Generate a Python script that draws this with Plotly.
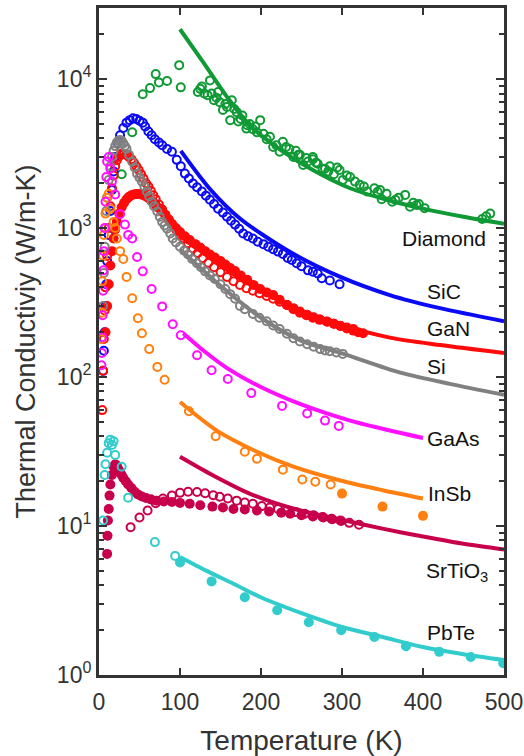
import math
import plotly.graph_objects as go

# ---------------- data (T in K, k in W/m-K) ----------------
diamond_T = [28, 41, 54, 63, 70, 74, 84, 99, 101, 122, 125, 130, 137, 139, 145, 149, 153, 158, 162, 164,
             170, 172, 177, 182, 183, 190, 195, 199, 207, 215, 223, 227, 235, 240, 246, 248, 252, 258, 264,
             264, 270, 276, 279, 285, 290, 297, 301, 310, 316, 322, 331, 340, 347, 349, 355, 362, 370, 378,
             384, 392, 395, 402, 473, 478, 483,
             127, 134, 142, 147, 156, 167, 175, 186, 193, 203, 211, 219, 231, 243, 256, 268, 283, 294, 306,
             327, 344, 366, 388]
diamond_k = [2300, 4400, 7900, 8700, 10800, 9500, 9700, 12400, 8800, 8200, 8600, 8000, 9800, 8000, 7500,
             7000, 6200, 6500, 5300, 7200, 6000, 5200, 5700, 4650, 4900, 4600, 4400, 5300, 3950, 3500,
             3250, 3800, 3400, 3000, 3100, 3100, 2650, 2800, 2900, 3000, 2700, 2500, 2500, 2600, 2300,
             2450, 2100, 2200, 2050, 1950, 1760, 1850, 1800, 1560, 1700, 1500, 1600, 1670, 1390, 1430,
             1450, 1360, 1150, 1200, 1250,
             8900, 7800, 7200, 8200, 6800, 6300, 5400, 5000, 4800, 4300, 4100, 3600, 3500, 3300, 2950,
             2750, 2400, 2550, 2250, 1900, 1750, 1550, 1480]
diamond_line_T = [100, 129, 158, 186, 224, 264, 310, 355, 400, 450, 500]
diamond_line_k = [21600, 12900, 7600, 4900, 3350, 2450, 1850, 1550, 1350, 1190, 1070]

sic_T = [5, 6, 7, 8, 9, 10, 12, 14, 16, 18, 20, 23, 26, 30, 34, 38, 42, 46, 50, 54, 57, 61, 65, 69, 74,
         78, 84, 90, 96, 101, 106, 111, 116, 121, 127, 132, 137, 142, 147, 153, 158, 163, 168, 173, 178,
         184, 190, 196, 203, 209, 215, 221, 227, 233, 238, 244, 250, 258, 264, 270, 275, 285, 297]
sic_k = [110, 150, 200, 300, 420, 600, 900, 1300, 1800, 2400, 3000, 3700, 4200, 4700, 5100, 5300, 5450,
         5400, 5250, 5100, 4800, 4450, 4200, 3950, 3750, 3600, 3400, 3250, 2870, 2600, 2320, 2150, 1990,
         1880, 1760, 1650, 1550, 1450, 1350, 1270, 1190, 1120, 1055, 990, 920, 880, 850, 810, 780, 750,
         720, 695, 670, 630, 610, 580, 555, 520, 510, 495, 460, 445, 420]
sic_line_T = [101, 137, 174, 236, 298, 359, 421, 500]
sic_line_k = [3300, 1830, 1160, 690, 470, 355, 290, 237]

gan_open_T = [4, 5, 6, 7, 8, 10, 12, 14, 16, 18, 20, 22, 24, 26, 28, 31, 34, 37, 40, 43, 46, 49, 52, 55,
              58, 61, 64, 67, 70, 74, 78, 82, 86, 90, 95, 100, 105, 110, 116, 122, 128, 135, 142, 150, 158,
              166, 174, 182, 190, 198, 207, 215, 223, 232, 240, 248, 257, 265, 273, 282, 290, 298, 306, 314]
gan_open_k = [60, 110, 180, 280, 400, 650, 1000, 1400, 1850, 2250, 2600, 2850, 3000, 3100, 3150, 3150,
              3100, 3000, 2900, 2750, 2600, 2450, 2300, 2150, 2000, 1900, 1780, 1660, 1560, 1440, 1330,
              1230, 1140, 1060, 980, 910, 850, 790, 730, 680, 630, 585, 545, 505, 470, 440, 415, 395, 380,
              365, 350, 335, 320, 305, 290, 275, 262, 252, 243, 235, 228, 221, 215, 210]
gan_fill_T = [8, 10, 12, 14, 16, 18, 20, 22, 25, 28, 31, 34, 37, 40, 43, 46, 49, 52, 55, 58, 61, 64, 67,
              70, 74, 78, 82, 86, 90, 95, 100, 106, 112, 119, 125, 131, 137, 143, 150, 156, 162, 168, 175,
              183, 191, 199, 207, 215, 223, 232, 240, 248, 256, 264, 272, 281, 290, 298, 306, 314, 320, 326]
gan_fill_k = [200, 300, 420, 560, 700, 850, 980, 1100, 1250, 1380, 1480, 1560, 1620, 1660, 1680, 1690,
              1690, 1680, 1660, 1630, 1590, 1540, 1490, 1430, 1360, 1290, 1210, 1140, 1070, 1000, 940,
              880, 830, 780, 740, 700, 665, 635, 600, 570, 540, 515, 480, 450, 415, 390, 370, 355, 330,
              305, 285, 270, 260, 250, 243, 236, 228, 220, 212, 205, 200, 197]
gan_line_T = [100, 150, 200, 250, 300, 359, 421, 500]
gan_line_k = [900, 560, 380, 275, 222, 184, 164, 145]

si_T = [5, 6, 7, 8, 9, 10, 12, 14, 16, 18, 20, 22, 24, 26, 28, 30, 32, 34, 37, 41, 44, 47, 50, 53, 56,
        59, 62, 65, 68, 72, 75, 78, 81, 84, 88, 91, 95, 100, 105, 110, 115, 121, 126, 131, 137, 143, 150,
        156, 162, 168, 174, 180, 190, 198, 207, 215, 223, 232, 240, 248, 257, 265, 273, 279, 285, 293, 301]
si_k = [300, 500, 750, 1000, 1300, 1600, 2100, 2600, 3000, 3300, 3550, 3750, 3850, 3900, 3850, 3700, 3550,
        3400, 3100, 2790, 2550, 2315, 2180, 2050, 1900, 1760, 1630, 1500, 1400, 1290, 1190, 1100, 1040,
        990, 920, 850, 800, 750, 705, 665, 620, 580, 545, 512, 480, 455, 420, 390, 360, 335, 300, 285,
        265, 250, 237, 222, 210, 195, 182, 173, 166, 160, 154, 151, 149, 146, 143]
si_line_T = [100, 150, 200, 250, 302, 372, 433, 500]
si_line_k = [720, 410, 250, 175, 143, 107, 90, 76]

gaas_T = [3, 3.5, 4, 4.5, 5, 5.5, 6, 7, 8, 9, 10, 12, 14, 16, 20, 26, 32, 36, 41, 47, 54, 65, 78, 91, 101,
          121, 139, 159, 188, 226, 257, 279, 296]
gaas_k = [120, 145, 185, 260, 380, 520, 700, 1000, 1500, 2200, 2800, 3000, 2500, 2050, 1680, 1240, 1055,
          900, 850, 640, 512, 390, 298, 226, 191, 140, 111, 97, 78, 64, 57, 51, 47]
gaas_line_T = [104, 130, 159, 201, 248, 310, 350, 400]
gaas_line_k = [197, 149, 114, 85, 66, 51, 45, 39]

insb_open_T = [3, 3.5, 4, 5, 6, 8, 10, 12, 14, 18, 20, 22, 26, 30, 34, 41, 48, 53, 62, 72, 81, 111, 144,
               180, 195, 227, 251, 267, 286]
insb_open_k = [180, 270, 440, 650, 900, 1250, 1600, 1700, 1350, 1100, 1000, 850, 700, 620, 470, 338, 248,
               197, 154, 117, 96, 59, 40, 31.5, 28.3, 23.9, 20.5, 19.8, 19.0]
insb_fill_T = [300, 350, 400]
insb_fill_k = [16.5, 13.5, 11.7]
insb_line_T = [100, 146, 195, 240, 298, 350, 400]
insb_line_k = [68, 43.5, 31.5, 25, 20.2, 17.4, 15.3]

sto_fill_T = [10, 10.5, 11, 12, 13, 14, 16, 18, 20, 22, 24, 26, 28, 30, 33, 36, 40, 44, 48, 53, 58, 64, 71,
              80, 90, 100, 112, 125, 140, 153, 166, 180, 195, 210, 225, 236, 250, 264, 277, 288, 298]
sto_fill_k = [6.5, 8.6, 10.9, 13, 16, 19, 22, 25, 26, 25.5, 24, 23, 22, 21, 20, 19, 18, 17, 16.3, 15.8,
              15.4, 15.1, 14.8, 14.6, 14.5, 14.3, 14.1, 13.8, 13.5, 13.3, 13.0, 12.9, 12.7, 12.5, 12.3,
              12.1, 11.8, 11.6, 11.4, 11.1, 10.9]
sto_open_T = [39, 50, 60, 70, 79, 90, 100, 110, 121, 131, 141, 149, 159, 170, 180, 190, 201, 211, 221, 232,
              243, 254, 265, 276, 287, 299, 309, 321]
sto_open_k = [9.8, 11.4, 12.7, 14.2, 15.3, 16, 16.7, 17, 16.9, 16.6, 16.1, 15.7, 15.3, 14.8, 14.4, 14.1,
              13.6, 13.3, 13.0, 12.7, 12.4, 12.1, 11.8, 11.5, 11.2, 10.8, 10.5, 10.2]
sto_line_T = [100, 140, 186, 244, 300, 350, 400, 450, 500]
sto_line_k = [29.2, 22, 16.5, 12.9, 11.0, 9.6, 8.5, 7.6, 6.96]

pbte_open_T = [5, 7, 8, 10, 12, 14, 16, 18, 20, 28, 36, 69, 94]
pbte_open_k = [10.9, 22, 26, 31, 36, 38, 35, 37, 30, 25, 15.5, 7.8, 6.3]
pbte_fill_T = [100, 139, 180, 220, 259, 299, 340, 379, 420, 459, 499]
pbte_fill_k = [5.7, 4.25, 3.33, 2.72, 2.26, 2.0, 1.8, 1.56, 1.43, 1.32, 1.2]
pbte_line_T = [100, 133, 166, 201, 250, 300, 350, 400, 450, 500]
pbte_line_k = [6.2, 5.0, 4.1, 3.3, 2.6, 2.1, 1.8, 1.54, 1.38, 1.26]

labels = ["Diamond", "SiC", "GaN", "Si", "GaAs", "InSb", "SrTiO<sub>3</sub>", "PbTe"]

x_ticks = [0, 100, 200, 300, 400, 500]
y_ticks = [1, 10, 100, 1000, 10000]
y_ticktext = ["10<sup>0</sup>", "10<sup>1</sup>", "10<sup>2</sup>", "10<sup>3</sup>", "10<sup>4</sup>"]

# ---------------- styles ----------------
C_DIA = "#109a35"
C_SIC = "#0a0af5"
C_GAN = "#ff0a0a"
C_SI = "#808080"
C_GAAS = "#ff10ff"
C_INSB = "#ff8010"
C_STO = "#c8004c"
C_PBTE = "#33cccc"

OPEN_SIZE = 8
OPEN_LW = 2
FILL_SIZE = 10
LINE_W = 4
FONT = "Liberation Sans, Arial, sans-serif"

fig = go.Figure()


def add_open(T, k, c):
    fig.add_trace(go.Scatter(x=T, y=k, mode="markers",
                             marker=dict(symbol="circle-open", size=OPEN_SIZE, color=c,
                                         line=dict(width=OPEN_LW, color=c)),
                             showlegend=False, hoverinfo="skip"))


def add_fill(T, k, c):
    fig.add_trace(go.Scatter(x=T, y=k, mode="markers",
                             marker=dict(symbol="circle", size=FILL_SIZE, color=c),
                             showlegend=False, hoverinfo="skip"))


def add_line(T, k, c):
    fig.add_trace(go.Scatter(x=T, y=k, mode="lines",
                             line=dict(color=c, width=LINE_W, shape="spline", smoothing=0.8),
                             showlegend=False, hoverinfo="skip"))


add_open(diamond_T, diamond_k, C_DIA)
add_line(diamond_line_T, diamond_line_k, C_DIA)
add_open(sic_T, sic_k, C_SIC)
add_line(sic_line_T, sic_line_k, C_SIC)
add_line(gan_line_T, gan_line_k, C_GAN)
add_open(gan_open_T, gan_open_k, C_GAN)
add_fill(gan_fill_T, gan_fill_k, C_GAN)
add_line(si_line_T, si_line_k, C_SI)
add_open(si_T, si_k, C_SI)
add_open(insb_open_T, insb_open_k, C_INSB)
add_fill(insb_fill_T, insb_fill_k, C_INSB)
add_line(insb_line_T, insb_line_k, C_INSB)
add_open(gaas_T, gaas_k, C_GAAS)
add_line(gaas_line_T, gaas_line_k, C_GAAS)
add_line(sto_line_T, sto_line_k, C_STO)
add_fill(sto_fill_T, sto_fill_k, C_STO)
add_open(sto_open_T, sto_open_k, C_STO)
add_open(pbte_open_T, pbte_open_k, C_PBTE)
add_fill(pbte_fill_T, pbte_fill_k, C_PBTE)
add_line(pbte_line_T, pbte_line_k, C_PBTE)

# label placement (T, k, x-anchor); log axis -> annotation y in log10 units
label_pos = [(480, 851, "right"), (403, 376, "left"), (403, 213, "left"), (403, 118, "left"),
             (403, 38.5, "left"), (404, 16.5, "left"), (401, 4.95, "left"), (403, 1.94, "left")]
for txt, (lx, ly, anc) in zip(labels, label_pos):
    fig.add_annotation(x=lx, y=math.log10(ly), yref="y", xref="x", text=txt, showarrow=False,
                       xanchor=anc, yanchor="middle",
                       font=dict(family=FONT, size=21, color="#111111"))

AX = "#333333"
fig.update_xaxes(range=[0, 500], tickvals=x_ticks, ticks="inside", ticklen=7, tickwidth=2,
                 tickcolor=AX, showline=True, linewidth=3, linecolor=AX, mirror="allticks",
                 showgrid=False, zeroline=False, automargin=False, ticklabelstandoff=4,
                 tickfont=dict(family=FONT, size=23, color=AX),
                 title=dict(text="Temperature (K)", font=dict(family=FONT, size=28, color=AX),
                            standoff=18))
minor_vals = [m * d for d in [1, 10, 100, 1000, 10000] for m in range(2, 10) if m * d <= 30000]
fig.update_yaxes(type="log", range=[0, 4.4771], tickvals=y_ticks, ticktext=y_ticktext,
                 ticks="inside", ticklen=8, tickwidth=2, tickcolor=AX,
                 minor=dict(tickvals=minor_vals, ticks="inside", ticklen=5, tickwidth=2, tickcolor=AX),
                 showline=True, linewidth=3, linecolor=AX, mirror="allticks",
                 showgrid=False, zeroline=False, automargin=False,
                 tickfont=dict(family=FONT, size=23, color=AX),
                 title=dict(text="Thermal Conductiviy (W/m-K)", font=dict(family=FONT, size=27, color=AX),
                            standoff=14))

fig.update_layout(width=524, height=756, margin=dict(l=99, r=20, t=8, b=81),
                  plot_bgcolor="white", paper_bgcolor="white")

fig.write_html("out.html")
